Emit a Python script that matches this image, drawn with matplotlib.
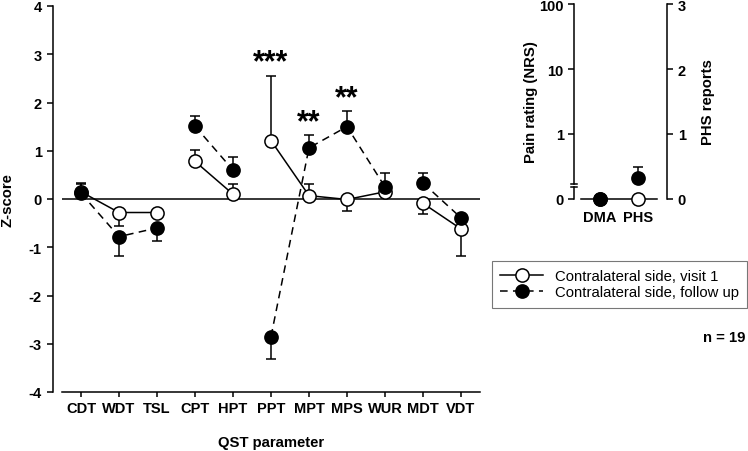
import matplotlib
matplotlib.use("Agg")
import matplotlib.pyplot as plt
import numpy as np
from matplotlib.transforms import ScaledTranslation, blended_transform_factory

plt.rcParams["font.family"] = ["Liberation Sans", "DejaVu Sans"]
plt.rcParams["axes.unicode_minus"] = False

# --------------------------------------------
# data
# --------------------------------------------
qst_labels = ["CDT", "WDT", "TSL", "CPT", "HPT", "PPT", "MPT", "MPS", "WUR", "MDT", "VDT"]
segments = [[0, 1, 2], [3, 4], [5, 6, 7, 8], [9, 10]]

visit1 = [0.15, -0.28, -0.28, 0.78, 0.10, 1.21, 0.07, -0.01, 0.15, -0.09, -0.62]
visit1_err_up = [0.17, 0, 0, 0.24, 0.22, 1.33, 0.24, 0, 0, 0, 0]
visit1_err_dn = [0, 0.27, 0, 0, 0, 0, 0, 0.24, 0, 0.22, 0.56]

follow = [0.12, -0.78, -0.60, 1.51, 0.60, -2.85, 1.06, 1.50, 0.25, 0.33, -0.39]
follow_err_up = [0.21, 0, 0, 0.21, 0.27, 0, 0.26, 0.32, 0.28, 0.21, 0]
follow_err_dn = [0, 0.41, 0.28, 0, 0, 0.46, 0, 0, 0, 0, 0]

stars = {5: ("***", 2.84), 6: ("**", 1.60), 7: ("**", 2.08)}

side_labels = ["DMA", "PHS"]
side_visit1 = [0, 0]
side_follow = [0, 0.33]
side_follow_err = [0, 0.17]

# --------------------------------------------
# figure
# --------------------------------------------
fig = plt.figure(figsize=(7.48, 4.52), dpi=100)
ax = fig.add_axes([62 / 748, 59 / 452, 418 / 748, 386 / 452])

x = np.arange(len(qst_labels))
lw = 1.1
ms = 9.5
fs = 10.5

ax.axhline(0, color="black", lw=lw, zorder=1)

ax.errorbar(x, visit1, yerr=[visit1_err_dn, visit1_err_up], fmt="none",
            ecolor="black", elinewidth=lw, capsize=3.3, capthick=lw, zorder=2)
ax.errorbar(x, follow, yerr=[follow_err_dn, follow_err_up], fmt="none",
            ecolor="black", elinewidth=lw, capsize=3.3, capthick=lw, zorder=2)

for seg in segments:
    xs = x[seg]
    ax.plot(xs, [visit1[i] for i in seg], color="black", lw=lw, zorder=3)
    ax.plot(xs, [follow[i] for i in seg], color="black", lw=lw,
            dashes=(5, 3.5), zorder=3)

ax.plot(x, visit1, "o", ms=ms, mfc="white", mec="black", mew=lw, zorder=4)
ax.plot(x, follow, "o", ms=ms, mfc="black", mec="black", mew=lw, zorder=5)

for i, (s, yv) in stars.items():
    ax.text(i, yv, s, ha="center", va="center", fontsize=22, fontweight="bold")

ax.set_xlim(-0.5, 10.5)
ax.set_ylim(-4, 4)
ax.set_xticks(x)
ax.set_xticklabels(qst_labels)
ax.set_yticks(range(-4, 5))
for sp in ["top", "right"]:
    ax.spines[sp].set_visible(False)
ax.spines["left"].set_position(("outward", 6.5))
ax.spines["left"].set_linewidth(lw)
ax.spines["bottom"].set_linewidth(lw)
ax.tick_params(direction="out", length=4, width=lw, labelsize=fs, pad=4)
for t in ax.get_xticklabels() + ax.get_yticklabels():
    t.set_fontweight("bold")
ax.tick_params(axis="x", length=3.6, pad=3)
ax.set_xlabel("QST parameter", fontsize=10.7, fontweight="bold", labelpad=14)
ax.set_ylabel("Z-score", fontsize=10.7, fontweight="bold", labelpad=10)

# --------------------------------------------
# right panel (DMA / PHS)
# --------------------------------------------
bx = fig.add_axes([581 / 748, 252 / 452, 76 / 748, 195 / 452])
xs2 = np.arange(len(side_labels))
bx.errorbar(xs2, side_follow, yerr=[[0, 0], side_follow_err], fmt="none",
            ecolor="black", elinewidth=lw, capsize=3.3, capthick=lw, zorder=2)
bx.plot(xs2, side_visit1, "o", ms=ms, mfc="white", mec="black", mew=lw,
        zorder=4, clip_on=False)
bx.plot(xs2, side_follow, "o", ms=ms, mfc="black", mec="black", mew=lw,
        zorder=5, clip_on=False)
bx.set_xlim(-0.5, 1.5)
bx.set_ylim(0, 3)
bx.set_xticks(xs2)
bx.set_xticklabels(side_labels)
bx.set_yticks([0, 1, 2, 3])
bx.set_yticklabels(["0", "1", "10", "100"])
for sp in ["top", "right"]:
    bx.spines[sp].set_visible(False)
bx.spines["left"].set_position(("outward", 5))
bx.spines["left"].set_bounds(0.23, 3)
bx.spines["left"].set_linewidth(lw)
bx.spines["bottom"].set_linewidth(lw)
bx.tick_params(axis="y", direction="out", length=4, width=lw, labelsize=fs)
bx.tick_params(axis="x", length=0, labelsize=fs, pad=8)
for t in bx.get_xticklabels() + bx.get_yticklabels():
    t.set_fontweight("bold")
bx.set_ylabel("Pain rating (NRS)", fontsize=10.7, fontweight="bold", labelpad=1)

# axis break on the left spine
tr = blended_transform_factory(bx.transAxes, bx.transData) + \
    ScaledTranslation(-5 / 72, 0, fig.dpi_scale_trans)
bx.plot([0, 0], [0, 0.18], color="black", lw=lw, transform=tr, clip_on=False)
for yb in [0.18, 0.23]:
    bx.plot([-0.045, 0.045], [yb, yb], color="black", lw=lw, transform=tr,
            clip_on=False)

cx = bx.twinx()
cx.set_ylim(0, 3)
cx.set_yticks([0, 1, 2, 3])
for sp in ["top", "left", "bottom"]:
    cx.spines[sp].set_visible(False)
cx.spines["right"].set_position(("outward", 7.5))
cx.spines["right"].set_linewidth(lw)
cx.tick_params(axis="y", direction="out", length=4, width=lw, labelsize=fs)
for t in cx.get_yticklabels():
    t.set_fontweight("bold")
cx.set_ylabel("PHS reports", fontsize=10.7, fontweight="bold", labelpad=11)

# --------------------------------------------
# legend
# --------------------------------------------
h1, = ax.plot([], [], "-o", color="black", lw=lw, ms=ms, mfc="white", mew=lw)
h2, = ax.plot([], [], "-o", color="black", lw=lw, ms=ms, mfc="black", mew=lw,
              dashes=(5, 3.5))
leg = fig.legend([h1, h2],
                 ["Contralateral side, visit 1", "Contralateral side, follow up"],
                 loc="upper left", bbox_to_anchor=(492 / 748, 1 - 262 / 452),
                 fontsize=10.7, frameon=True, fancybox=False, handlelength=2.9,
                 borderpad=0.55, labelspacing=0.15, handletextpad=0.8,
                 borderaxespad=0)
leg.get_frame().set_edgecolor("#555555")
leg.get_frame().set_linewidth(0.8)

fig.text(745 / 748, 1 - 338 / 452, "n = 19", ha="right", va="center",
         fontsize=10.7, fontweight="bold")

fig.savefig("out.png", dpi=100)
